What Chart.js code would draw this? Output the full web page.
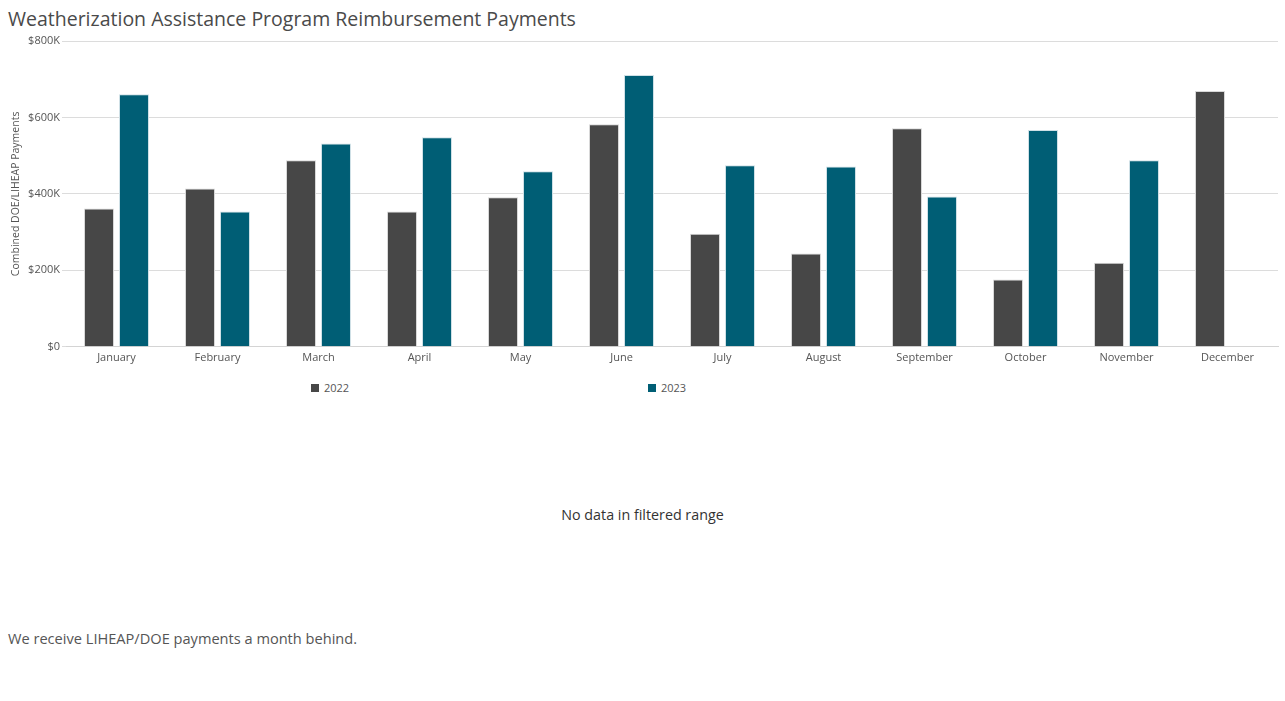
<!DOCTYPE html>
<html>
<head>
<meta charset="utf-8">
<script src="https://cdn.jsdelivr.net/npm/chart.js@4.4.0/dist/chart.umd.min.js"></script>
<style>
  body { margin: 0; background: #fff; font-family: "Open Sans", sans-serif; width: 1285px; height: 701px; position: relative; overflow: hidden; }
  #title { position: absolute; left: 8px; top: 5px; font-size: 19.5px; color: #4a4a4a; }
  #wrap { position: absolute; left: 0; top: 30px; width: 1285px; height: 338px; }
  #legend { position: absolute; top: 380px; left: 0; width: 1285px; height: 18px; font-size: 11px; color: #555; }
  #legend span.item { position: absolute; }
  #legend i { display: inline-block; width: 8px; height: 8px; margin-right: 5px; }
  #nodata { position: absolute; top: 505px; left: 0; width: 1285px; text-align: center; font-size: 14.3px; color: #333; }
  #note { position: absolute; top: 628px; left: 8px; font-size: 14.6px; color: #555; }
</style>
</head>
<body>
<div id="title">Weatherization Assistance Program Reimbursement Payments</div>
<div id="wrap"><canvas id="c"></canvas></div>
<div id="legend"></div>
<div id="nodata">No data in filtered range</div>
<div id="note">We receive LIHEAP/DOE payments a month behind.</div>
<script>
const months = ['January', 'February', 'March', 'April', 'May', 'June', 'July', 'August', 'September', 'October', 'November', 'December']
const seriesNames = ['2022', '2023']
const payments2022 = [362000, 414000, 488000, 354000, 391000, 582000, 296000, 244000, 572000, 176000, 220000, 669000]
const payments2023 = [661000, 354000, 532000, 548000, 459000, 711000, 475000, 472000, 393000, 567000, 488000, null]
const yTicks = [0, 200000, 400000, 600000, 800000]
const colors = ['#474747', '#005e75']

const data = {
  labels: months,
  datasets: [{
    label: seriesNames[0],
    data: payments2022,
    backgroundColor: colors[0],
    borderColor: '#d8d8d8',
    borderWidth: 1,
    categoryPercentage: 0.693,
    barPercentage: 0.857
  }, {
    label: seriesNames[1],
    data: payments2023,
    backgroundColor: colors[1],
    borderColor: '#cfe0e6',
    borderWidth: 1,
    categoryPercentage: 0.693,
    barPercentage: 0.857
  }]
}

const chart = new Chart(document.getElementById('c'), {
  type: 'bar',
  data: data,
  options: {
    responsive: true,
    maintainAspectRatio: false,
    animation: false,
    layout: { padding: { top: 11, right: 7, left: 0, bottom: 0 } },
    plugins: {
      legend: { display: false },
      tooltip: { enabled: false }
    },
    scales: {
      x: {
        grid: { display: false, drawTicks: false, tickLength: 0 },
        border: { color: '#d4d4d4' },
        ticks: { color: '#555', font: { family: 'Open Sans', size: 11 }, maxRotation: 0, padding: 4 }
      },
      y: {
        min: 0,
        max: 800000,
        afterBuildTicks: (s) => { s.ticks = yTicks.map(v => ({ value: v })) },
        afterFit: (s) => { s.width = 66 },
        border: { display: false },
        grid: { color: '#dcdcdc', tickLength: 4 },
        ticks: {
          color: '#555',
          font: { family: 'Open Sans', size: 11 },
          padding: 2,
          callback: (v) => v === 0 ? '$0' : '$' + (v / 1000) + 'K'
        },
        title: {
          display: true,
          text: 'Combined DOE/LIHEAP Payments',
          color: '#555',
          font: { family: 'Open Sans', size: 10.5 },
          padding: { top: 10, bottom: 0 }
        }
      }
    }
  }
})

// legend built from the datasets
const legendX = [311, 648]
const legend = document.getElementById('legend')
chart.data.datasets.forEach((ds, i) => {
  const item = document.createElement('span')
  item.className = 'item'
  item.style.left = legendX[i] + 'px'
  item.innerHTML = '<i style="background:' + ds.backgroundColor + '"></i>' + ds.label
  legend.appendChild(item)
})
</script>
</body>
</html>
